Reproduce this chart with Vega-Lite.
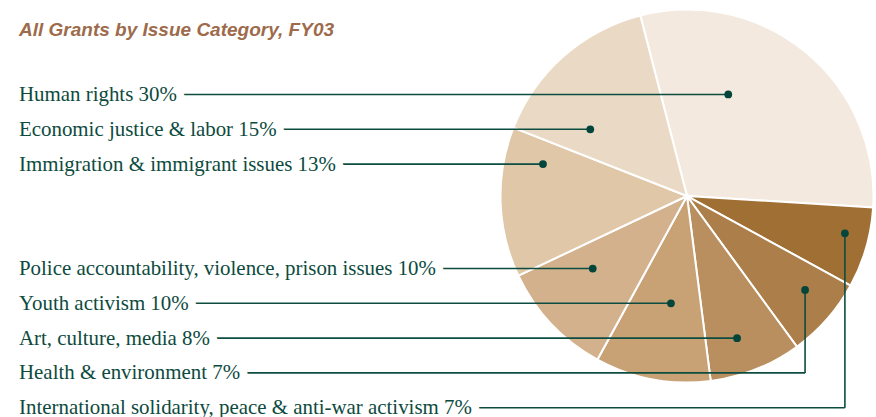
{
  "$schema": "https://vega.github.io/schema/vega-lite/v6.json",
  "width": 876,
  "height": 417,
  "autosize": {"type": "none"},
  "padding": 0,
  "background": "white",
  "config": {"view": {"stroke": null}},
  "title": {
    "text": "All Grants by Issue Category, FY03",
    "anchor": "start",
    "orient": "top",
    "frame": "group",
    "offset": 0,
    "dx": 19,
    "dy": 55,
    "baseline": "alphabetic",
    "font": "Liberation Sans",
    "fontSize": 19,
    "fontStyle": "italic",
    "fontWeight": "bold",
    "color": "#9d6b4b"
  },
  "data": {
    "values": [
      {"category": "Human rights", "label": "Human rights 30%", "pct": 30, "idx": 1, "row": 0, "dot_angle": 22.1, "dot_r": 0.588},
      {"category": "International solidarity, peace & anti-war activism", "label": "International solidarity, peace & anti-war activism 7%", "pct": 7, "idx": 2, "row": 9, "dot_angle": 103.3, "dot_r": 0.87},
      {"category": "Health & environment", "label": "Health & environment 7%", "pct": 7, "idx": 3, "row": 8, "dot_angle": 128.5, "dot_r": 0.809},
      {"category": "Art, culture, media", "label": "Art, culture, media 8%", "pct": 8, "idx": 4, "row": 7, "dot_angle": 160.6, "dot_r": 0.808},
      {"category": "Youth activism", "label": "Youth activism 10%", "pct": 10, "idx": 5, "row": 6, "dot_angle": 188.5, "dot_r": 0.582},
      {"category": "Police accountability, violence, prison issues", "label": "Police accountability, violence, prison issues 10%", "pct": 10, "idx": 6, "row": 5, "dot_angle": 232.4, "dot_r": 0.638},
      {"category": "Immigration & immigrant issues", "label": "Immigration & immigrant issues 13%", "pct": 13, "idx": 7, "row": 2, "dot_angle": 282.5, "dot_r": 0.791},
      {"category": "Economic justice & labor", "label": "Economic justice & labor 15%", "pct": 15, "idx": 8, "row": 1, "dot_angle": 304.6, "dot_r": 0.63}
    ]
  },
  "layer": [
    {
      "mark": {"type": "arc", "outerRadius": 186.5, "stroke": "white", "strokeWidth": 2},
      "encoding": {
        "x": {"datum": 19.195, "type": "quantitative", "scale": {"domain": [-0.546, 24.626], "nice": false, "zero": false}, "axis": null},
        "y": {"datum": 2.9167, "type": "quantitative", "scale": {"domain": [-2.7155, 9.267], "nice": false, "zero": false, "reverse": true}, "axis": null},
        "theta": {"field": "pct", "type": "quantitative", "stack": true, "scale": {"range": [-0.2531, 6.0301]}},
        "order": {"field": "idx", "type": "quantitative"},
        "color": {
          "field": "category",
          "type": "nominal",
          "scale": {
            "domain": ["Human rights", "International solidarity, peace & anti-war activism", "Health & environment", "Art, culture, media", "Youth activism", "Police accountability, violence, prison issues", "Immigration & immigrant issues", "Economic justice & labor"],
            "range": ["#f4e9de", "#a06f34", "#ac7e49", "#b98f5f", "#c8a174", "#d3b18c", "#dfc7a8", "#eadac5"]
          },
          "legend": null
        }
      }
    },
    {
      "transform": [
        {"calculate": "19.195 + datum.dot_r * 5.359 * sin(datum.dot_angle * PI / 180)", "as": "dot_x"},
        {"calculate": "2.9167 - datum.dot_r * 5.359 * cos(datum.dot_angle * PI / 180)", "as": "dot_y"}
      ],
      "layer": [
        {
          "mark": {"type": "rule", "color": "#0d4c40", "strokeWidth": 1.6},
          "encoding": {
            "x": {"field": "dot_x", "type": "quantitative"},
            "x2": {"datum": 0},
            "y": {"field": "row", "type": "quantitative"}
          }
        },
        {
          "mark": {"type": "rule", "color": "#0d4c40", "strokeWidth": 1.6},
          "encoding": {
            "x": {"field": "dot_x", "type": "quantitative"},
            "y": {"field": "row", "type": "quantitative"},
            "y2": {"field": "dot_y"}
          }
        },
        {
          "mark": {"type": "point", "filled": true, "shape": "circle", "size": 60, "color": "#03453a", "opacity": 1},
          "encoding": {
            "x": {"field": "dot_x", "type": "quantitative"},
            "y": {"field": "dot_y", "type": "quantitative"}
          }
        }
      ]
    },
    {
      "mark": {"type": "text", "align": "left", "baseline": "alphabetic", "dy": 6.5, "font": "Liberation Serif", "fontSize": 20.9, "fill": "white", "stroke": "white", "strokeWidth": 16, "strokeJoin": "round"},
      "encoding": {
        "x": {"datum": 0, "type": "quantitative"},
        "y": {"field": "row", "type": "quantitative"},
        "text": {"field": "label"}
      }
    },
    {
      "mark": {"type": "text", "align": "left", "baseline": "alphabetic", "dy": 6.5, "font": "Liberation Serif", "fontSize": 20.9, "color": "#0d4a3e"},
      "encoding": {
        "x": {"datum": 0, "type": "quantitative"},
        "y": {"field": "row", "type": "quantitative"},
        "text": {"field": "label"}
      }
    }
  ]
}
